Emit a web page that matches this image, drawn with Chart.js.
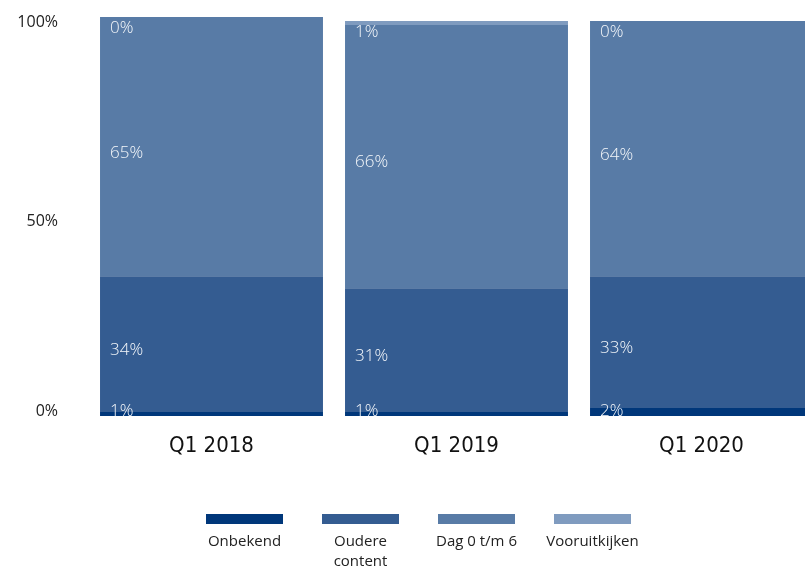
<!DOCTYPE html>
<html>
<head>
<meta charset="utf-8">
<script src="https://cdn.jsdelivr.net/npm/chart.js@4/dist/chart.umd.min.js"></script>
<style>
  html, body { margin: 0; padding: 0; background: #ffffff; overflow: hidden; width: 805px; height: 568px; }
  canvas { display: block; }
</style>
</head>
<body>
<canvas id="c" width="824" height="568" style="width:824px;height:568px"></canvas>
<script>
// ---- data ----
const categories = ['Q1 2018', 'Q1 2019', 'Q1 2020'];
const seriesNames = ['Onbekend', 'Oudere content', 'Dag 0 t/m 6', 'Vooruitkijken'];
const onbekend = [1, 1, 2];
const oudereContent = [34, 31, 33];
const dag0tm6 = [65, 66, 64];
const vooruitkijken = [0, 1, 0];
const yTicks = [0, 50, 100];

const seriesValues = [onbekend, oudereContent, dag0tm6, vooruitkijken];
const seriesColors = ['#00377a', '#345c91', '#587ba6', '#7f9bbf'];

const barLabelPlugin = {
  id: 'barLabels',
  afterDatasetsDraw(chart) {
    const ctx = chart.ctx;
    ctx.save();
    ctx.font = '300 17px "Open Sans", "Noto Sans", sans-serif';
    ctx.fillStyle = '#f4f7fa';
    ctx.textAlign = 'left';
    ctx.textBaseline = 'middle';
    const n = chart.data.labels.length;
    for (let i = 0; i < n; i++) {
      const els = chart.data.datasets.map((d, di) => chart.getDatasetMeta(di).data[i]);
      const top = Math.min(...els.map(e => e.y));
      const bottom = els[0].base;
      els.forEach((el, di) => {
        const mid = (el.y + el.base) / 2;
        let y = mid + 6;
        y = Math.max(y, top + 11);
        y = Math.min(y, bottom - 5);
        const x = el.x - el.width / 2 + 10;
        ctx.fillText(chart.data.datasets[di].data[i] + '%', x, y);
      });
    }
    ctx.restore();
  }
};

const legendPlugin = {
  id: 'bottomLegend',
  afterDraw(chart) {
    const ctx = chart.ctx;
    ctx.save();
    ctx.font = '15px "Open Sans", "Noto Sans", sans-serif';
    ctx.textAlign = 'center';
    ctx.textBaseline = 'middle';
    const boxW = 77, boxH = 10, startX = 206, step = 116, boxY = 514, textY = 542, lineH = 20, maxW = 100;
    chart.data.datasets.forEach((ds, i) => {
      const x = startX + i * step;
      ctx.fillStyle = ds.backgroundColor;
      ctx.fillRect(x, boxY, boxW, boxH);
      const words = ds.label.split(' ');
      const lines = [];
      let cur = '';
      words.forEach(w => {
        const t = cur ? cur + ' ' + w : w;
        if (cur && ctx.measureText(t).width > maxW) { lines.push(cur); cur = w; }
        else cur = t;
      });
      if (cur) lines.push(cur);
      ctx.fillStyle = '#222222';
      lines.forEach((ln, li) => ctx.fillText(ln, x + boxW / 2, textY + li * lineH));
    });
    ctx.restore();
  }
};

new Chart(document.getElementById('c'), {
  type: 'bar',
  data: {
    labels: categories,
    datasets: seriesNames.map((name, i) => ({
      label: name,
      data: seriesValues[i],
      backgroundColor: seriesColors[i],
      borderWidth: 0,
      categoryPercentage: 1,
      barPercentage: 0.91
    }))
  },
  options: {
    responsive: false,
    animation: false,
    layout: { padding: { top: 17, bottom: 102, left: 0, right: 0 } },
    plugins: { legend: { display: false }, tooltip: { enabled: false } },
    scales: {
      x: {
        stacked: true,
        grid: { display: false, drawTicks: false },
        border: { display: false },
        ticks: {
          padding: 17,
          color: '#111111',
          font: { family: '"Liberation Sans Narrow", "DejaVu Sans Condensed", sans-serif', size: 22 }
        },
        afterFit(scale) { scale.height = 50; scale.paddingLeft = 0; scale.paddingRight = 0; }
      },
      y: {
        stacked: true,
        min: 0,
        max: 100,
        grid: { display: false, drawTicks: false },
        border: { display: false },
        afterBuildTicks(scale) { scale.ticks = yTicks.map(v => ({ value: v })); },
        ticks: {
          padding: 31,
          labelOffset: 5,
          color: '#222222',
          font: { family: '"Open Sans", "Noto Sans", sans-serif', size: 16 },
          callback: v => (v === 0 ? ['0%', ''] : v + '%')
        },
        afterFit(scale) { scale.width = 89; scale.paddingTop = 0; scale.paddingBottom = 0; }
      }
    }
  },
  plugins: [barLabelPlugin, legendPlugin]
});
</script>
</body>
</html>
